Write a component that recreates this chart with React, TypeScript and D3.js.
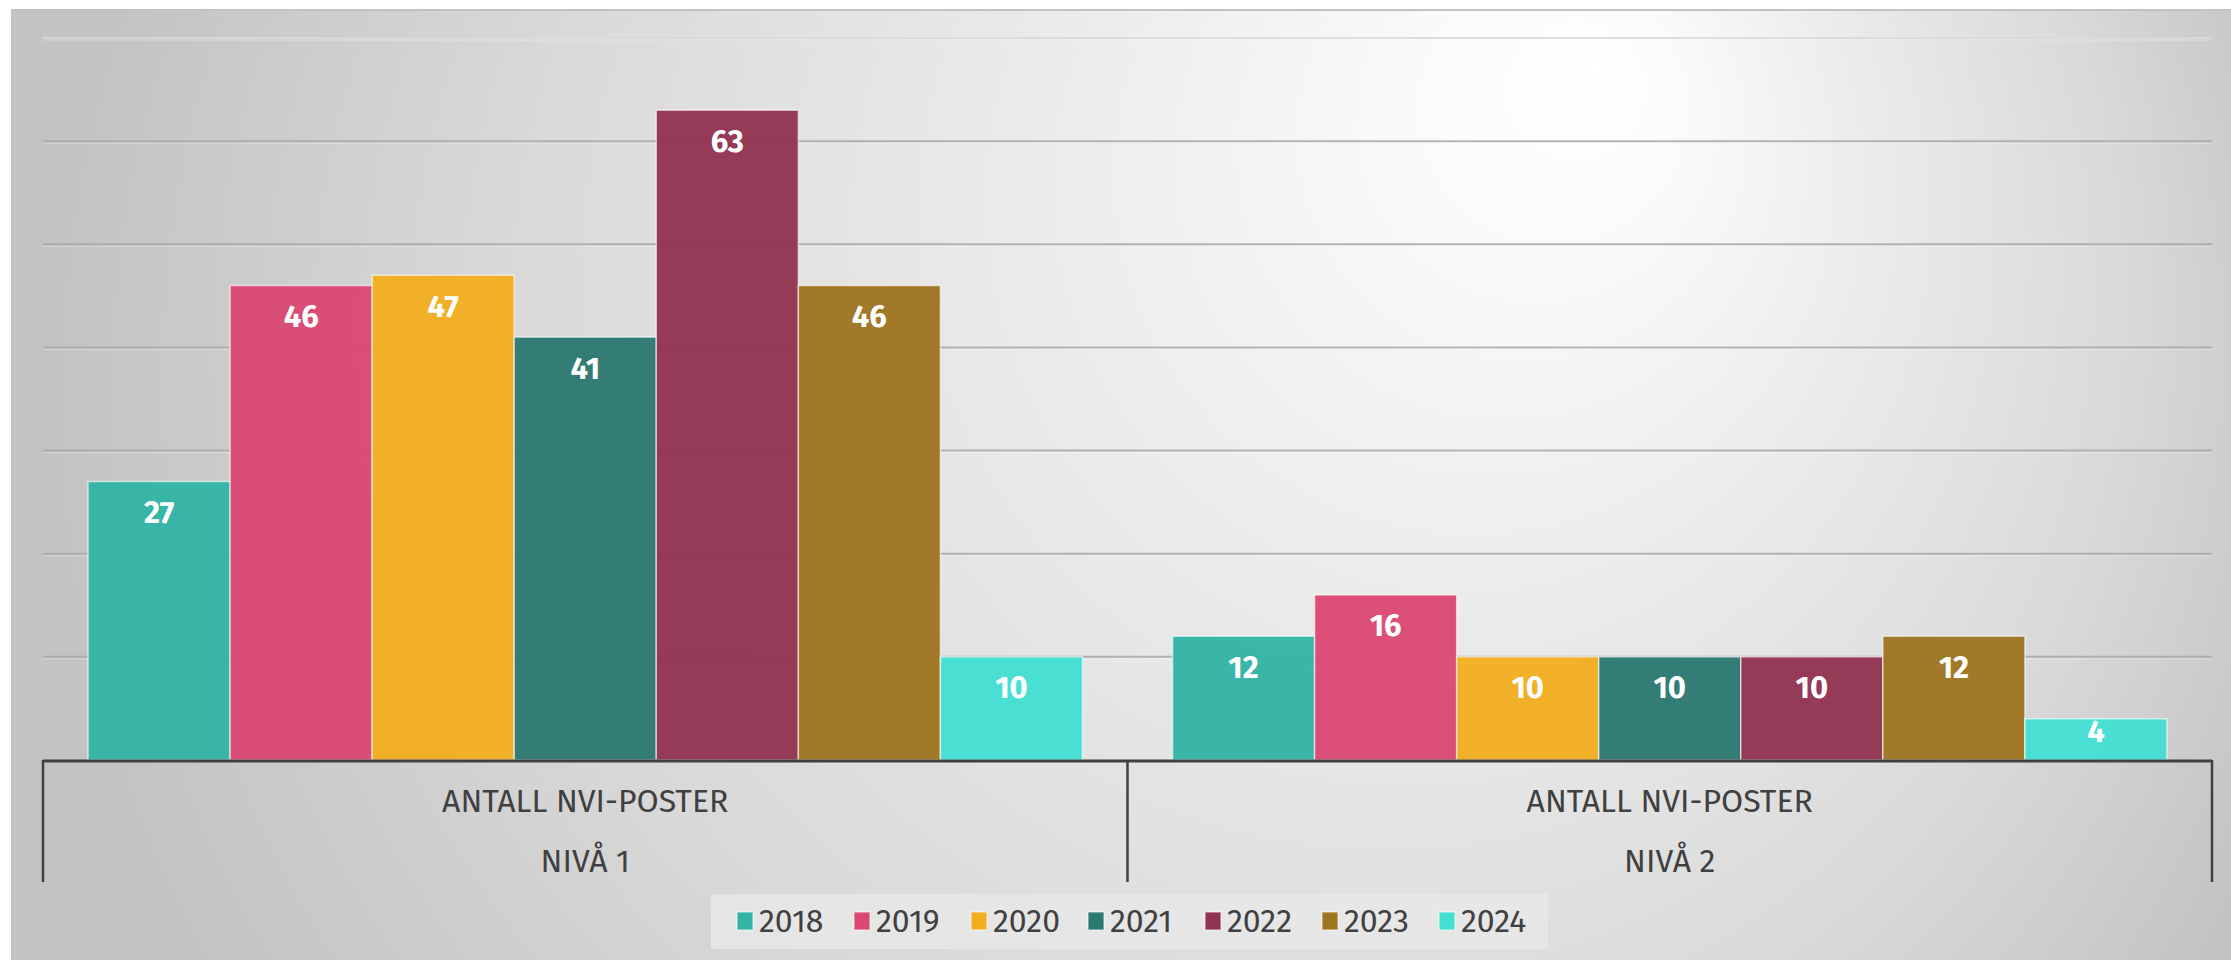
import React from "react";
import * as d3 from "d3";

const categories = ["NIVÅ 1", "NIVÅ 2"];
const categoryTitle = "ANTALL NVI-POSTER";
const years = ["2018", "2019", "2020", "2021", "2022", "2023", "2024"];
const nivaa1 = [27, 46, 47, 41, 63, 46, 10];
const nivaa2 = [12, 16, 10, 10, 10, 12, 4];
const seriesColors = ["#33b4a7", "#db4873", "#f3ad20", "#2c7971", "#923351", "#9e7520", "#43e0d2"];
const yTicks = [10, 20, 30, 40, 50, 60, 70];

const W = 2231;
const H = 960;
const FONT = "'Fira Sans', 'Open Sans', 'Noto Sans', sans-serif";

export default function App() {
  const values = [nivaa1, nivaa2];
  const left = 43;
  const right = 2212;
  const baseY = 760;
  const topY = 38;

  const x0 = d3.scaleBand<string>().domain(categories).range([left, right]).padding(0);
  const x1 = d3
    .scaleBand<string>()
    .domain(years)
    .range([0, x0.bandwidth()])
    .paddingInner(0)
    .paddingOuter(0.317);
  const y = d3.scaleLinear().domain([0, 70]).range([baseY, topY]);

  const legendX = 711;
  const legendW = 837;
  const legendY = 894;
  const legendH = 55;
  const legendStep = 117;
  const legendFirst = 737;
  const legendCY = 921;

  return (
    <div style={{ position: "absolute", left: 0, top: 0, width: W, height: H }}>
      <svg width={W} height={H} style={{ display: "block" }}>
        <defs>
          <radialGradient
            id="bg"
            gradientUnits="userSpaceOnUse"
            cx={1200}
            cy={400}
            r={1150}
            fx={1600}
            fy={70}
          >
            <stop offset="0" stopColor="#ffffff" />
            <stop offset="0.12" stopColor="#fafafa" />
            <stop offset="0.35" stopColor="#ececec" />
            <stop offset="0.7" stopColor="#d9d9d9" />
            <stop offset="1" stopColor="#c3c3c3" />
          </radialGradient>
        </defs>
        <rect x={0} y={0} width={W} height={H} fill="#ffffff" />
        <rect x={11} y={10} width={W - 11} height={H - 10} fill="url(#bg)" />
        <line x1={11} x2={W} y1={10} y2={10} stroke="#c2c2c2" strokeWidth={2} />

        {/* gridlines */}
        {yTicks.map((t) => (
          <g key={t}>
            <line
              x1={left}
              x2={right}
              y1={y(t)}
              y2={y(t)}
              stroke={t === 70 ? "#dadada" : "#a9a9a9"}
              strokeWidth={2}
              opacity={0.85}
            />
            <line
              x1={left}
              x2={right}
              y1={y(t) + 2}
              y2={y(t) + 2}
              stroke="#ffffff"
              strokeWidth={1}
              opacity={0.35}
            />
          </g>
        ))}

        {/* bars */}
        {categories.map((c, ci) => (
          <g key={c} transform={`translate(${x0(c)},0)`}>
            {years.map((yr, si) => {
              const v = values[ci][si];
              const bx = x1(yr)!;
              const by = y(v);
              const bh = baseY - by;
              const off = Math.min(31, bh * 0.3);
              return (
                <g key={yr}>
                  <rect
                    x={bx}
                    y={by}
                    width={x1.bandwidth()}
                    height={bh}
                    fill={seriesColors[si]}
                    fillOpacity={0.96}
                    stroke="#ffffff"
                    strokeOpacity={0.6}
                    strokeWidth={1.5}
                  />
                  <text
                    x={bx + x1.bandwidth() / 2}
                    y={by + off}
                    textAnchor="middle"
                    dominantBaseline="central"
                    fill="#ffffff"
                    fontFamily={FONT}
                    fontWeight={700}
                    fontSize={31}
                  >
                    {v}
                  </text>
                </g>
              );
            })}
          </g>
        ))}

        {/* axis */}
        <line x1={left} x2={right} y1={baseY + 1} y2={baseY + 1} stroke="#404040" strokeWidth={3} />
        {[left, x0(categories[1])!, right].map((xx, i) => (
          <line key={i} x1={xx} x2={xx} y1={baseY} y2={882} stroke="#404040" strokeWidth={2.5} />
        ))}
        {categories.map((c) => {
          const cx = x0(c)! + x0.bandwidth() / 2;
          return (
            <g key={c}>
              <text
                x={cx}
                y={801}
                textAnchor="middle"
                dominantBaseline="central"
                fill="#404040"
                fontFamily={FONT}
                fontSize={32}
              >
                {categoryTitle}
              </text>
              <text
                x={cx}
                y={861}
                textAnchor="middle"
                dominantBaseline="central"
                fill="#404040"
                fontFamily={FONT}
                fontSize={32}
              >
                {c}
              </text>
            </g>
          );
        })}

        {/* legend */}
        <rect x={legendX} y={legendY} width={legendW} height={legendH} fill="#e8e8e8" opacity={0.85} />
        {years.map((yr, i) => {
          const lx = legendFirst + i * legendStep;
          return (
            <g key={yr}>
              <rect
                x={lx}
                y={legendCY - 9}
                width={16}
                height={18}
                fill={seriesColors[i]}
                stroke="#ffffff"
                strokeOpacity={0.5}
                strokeWidth={1.5}
              />
              <text
                x={lx + 22}
                y={legendCY}
                dominantBaseline="central"
                fill="#404040"
                fontFamily={FONT}
                fontSize={32}
              >
                {yr}
              </text>
            </g>
          );
        })}
      </svg>
    </div>
  );
}
